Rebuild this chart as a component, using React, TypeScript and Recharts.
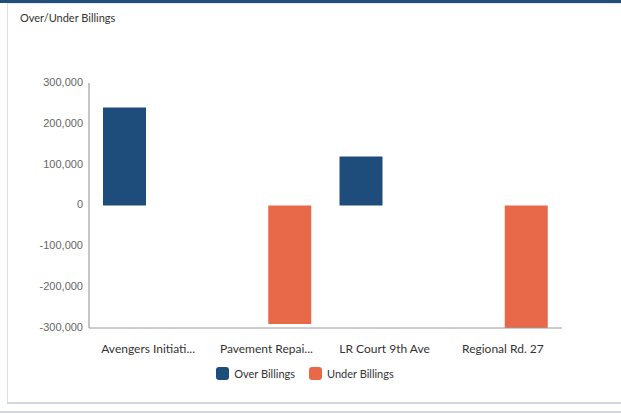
import React from 'react';
import { Bar, BarChart, Legend, XAxis, YAxis } from 'recharts';

const projects = ['Avengers Initiati...', 'Pavement Repai...', 'LR Court 9th Ave', 'Regional Rd. 27'];
const overBillings = [240000, null, 120000, null];
const underBillings = [null, -290000, null, -300000];
const yTicks = [-300000, -200000, -100000, 0, 100000, 200000, 300000];

const OVER_COLOR = '#1e4d7b';
const UNDER_COLOR = '#e8694a';

const data = projects.map((name, i) => ({
	name,
	over: overBillings[i],
	under: underBillings[i],
}));

const LegendContent = (props: any) => {
	const items = props.payload || [];
	return (
		<div style={{ display: 'flex', justifyContent: 'center', gap: 14, paddingLeft: 48, fontFamily: 'Lato', fontSize: 11, color: '#333' }}>
			{items.map((it: any) => (
				<div key={it.value} style={{ display: 'flex', alignItems: 'center', gap: 5 }}>
					<span style={{ width: 13, height: 13, borderRadius: 3, background: it.color, display: 'inline-block' }} />
					<span>{it.value}</span>
				</div>
			))}
		</div>
	);
};

export default function App() {
	return (
		<div style={{ position: 'relative', width: 621, height: 414, overflow: 'hidden', background: '#fff' }}>
			<style>{'body { margin: 0; overflow: hidden; }'}</style>
			<div style={{ position: 'absolute', left: 0, top: 0, width: 621, height: 3, background: '#1f4e7c' }} />
			<div style={{ position: 'absolute', left: 7, top: 3, width: 614, height: 1, background: '#e4e6ea' }} />
			<div style={{ position: 'absolute', left: 7, top: 3, width: 1, height: 400, background: '#dde0e4' }} />
			<div style={{ position: 'absolute', left: 7, top: 402, width: 614, height: 2, background: '#d3d7dd' }} />
			<div style={{ position: 'absolute', left: 0, top: 411, width: 621, height: 2, background: '#d3d7dd' }} />
			<div style={{ position: 'absolute', left: 20, top: 11, fontFamily: 'Lato', fontSize: 11, color: '#333' }}>
				Over/Under Billings
			</div>
			<div style={{ position: 'absolute', left: 0, top: 0, width: 621, height: 414, overflow: 'hidden' }}>
				<BarChart
					width={621}
					height={414}
					data={data}
					margin={{ top: 83, right: 59, left: 0, bottom: 27 }}
					barCategoryGap={14}
					barGap={4}
				>
					<XAxis
						dataKey='name'
						stroke='#9a9a9a'
						tickLine={false}
						tickSize={0}
						tickMargin={16}
						height={39}
						interval={0}
						tick={{ fill: '#333', fontFamily: 'Lato', fontSize: 12 }}
					/>
					<YAxis
						width={89}
						domain={[-300000, 300000]}
						ticks={yTicks}
						stroke='#8a8a8a'
						tickLine={false}
						tickSize={0}
						tickMargin={6}
						tick={{ fill: '#666', fontFamily: 'Liberation Sans', fontSize: 11, dy: -1 }}
						tickFormatter={(v: number) => v.toLocaleString('en-US')}
					/>
					<Legend verticalAlign='bottom' height={20} content={<LegendContent />} />
					<Bar dataKey='over' name='Over Billings' fill={OVER_COLOR} isAnimationActive={false} />
					<Bar dataKey='under' name='Under Billings' fill={UNDER_COLOR} isAnimationActive={false} />
				</BarChart>
			</div>
		</div>
	);
}
